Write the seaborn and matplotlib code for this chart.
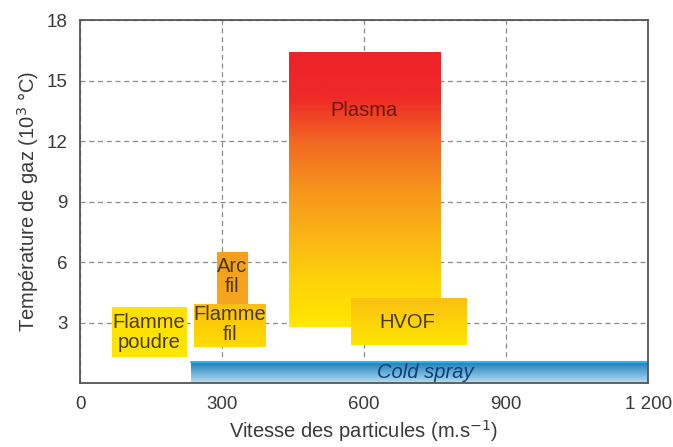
import matplotlib
matplotlib.use("Agg")
import matplotlib.pyplot as plt
import numpy as np
import seaborn as sns

# procedes de projection : vitesse (m/s) et temperature de gaz (10^3 degC)
procedes = ["Flamme poudre", "Flamme fil", "Arc fil", "Plasma", "HVOF", "Cold spray"]
v_min = [68, 240, 290, 442, 572, 235]
v_max = [226, 392, 354, 762, 815, 1200]
t_min = [1.3, 1.8, 3.5, 2.8, 1.9, 0.0]
t_max = [3.75, 3.9, 6.5, 16.4, 4.2, 1.05]

# couleurs haut -> bas du degrade de chaque boite
couleurs = {
    "Flamme poudre": ["#ffe000", "#ffe600"],
    "Flamme fil": ["#fcbf12", "#ffdc00"],
    "Arc fil": ["#f6a01e", "#f7a520"],
    "Plasma": ["#ee2229", "#ee2a28", "#f26a22", "#f7941d", "#fbb416", "#ffd20a", "#ffe800"],
    "HVOF": ["#fbbf14", "#ffe600"],
    "Cold spray": ["#1677b8", "#b5def3"],
}

x_ticks = [0, 300, 600, 900, 1200]
x_ticklabels = ["0", "300", "600", "900", "1 200"]
y_ticks = [3, 6, 9, 12, 15, 18]

sns.set_style("white")
plt.rcParams["font.family"] = ["Liberation Sans", "DejaVu Sans"]

fig = plt.figure(figsize=(6.73, 4.47), dpi=100)
ax = fig.add_axes([0.119, 0.143, 0.844, 0.812])

# ordre de dessin : arc derriere flamme fil
ordre = ["Plasma", "Arc fil", "Flamme fil", "Flamme poudre", "HVOF", "Cold spray"]
for nom in ordre:
    i = procedes.index(nom)
    cmap = sns.blend_palette(couleurs[nom][::-1], n_colors=256, as_cmap=True)
    grad = np.linspace(0, 1, 256).reshape(-1, 1)
    ax.imshow(grad, cmap=cmap, origin="lower", aspect="auto",
              extent=[v_min[i], v_max[i], t_min[i], t_max[i]], zorder=2,
              interpolation="bilinear")

# liseré cyan du cold spray
i = procedes.index("Cold spray")
ax.plot([v_min[i], v_max[i]], [t_max[i], t_max[i]], color="#29b6e8", lw=1.5, zorder=3)

ax.set_xlim(0, 1200)
ax.set_ylim(0, 18)

ax.grid(True, color="#8a8a8a", linestyle=(0, (4, 3)), linewidth=0.9)
ax.set_axisbelow(True)
for g in ax.get_xgridlines() + ax.get_ygridlines():
    g.set_zorder(1)

ax.set_xticks(x_ticks)
ax.set_xticklabels(x_ticklabels)
ax.set_yticks(y_ticks)
ax.tick_params(axis="both", direction="out", length=4, width=0.9, color="#444444",
               labelsize=13.5, labelcolor="#3a3a3a", pad=5)

for s in ax.spines.values():
    s.set_color("#555555")
    s.set_linewidth(1.3)
    s.set_zorder(5)

ax.set_xlabel("Vitesse des particules (m.s$^{-1}$)", fontsize=14.5, color="#3a3a3a", labelpad=4)
ax.set_ylabel("Température de gaz (10$^3$ °C)", fontsize=14.5, color="#3a3a3a", labelpad=4)

txt = dict(ha="center", va="center", fontsize=14.5, zorder=6, linespacing=1.05)
ax.text(600, 13.5, "Plasma", color="#6b1a12", **txt)
ax.text(692, 3.0, "HVOF", color="#4a3a0a", **txt)
ax.text(322, 5.3, "Arc\nfil", color="#4a3a0a", **txt)
ax.text(317, 2.9, "Flamme\nfil", color="#4a3a0a", **txt)
ax.text(146, 2.5, "Flamme\npoudre", color="#4a3a0a", **txt)
ax.text(730, 0.5, "Cold spray", color="#0d3f73", style="italic", **txt)

fig.savefig("out.png", dpi=100)
